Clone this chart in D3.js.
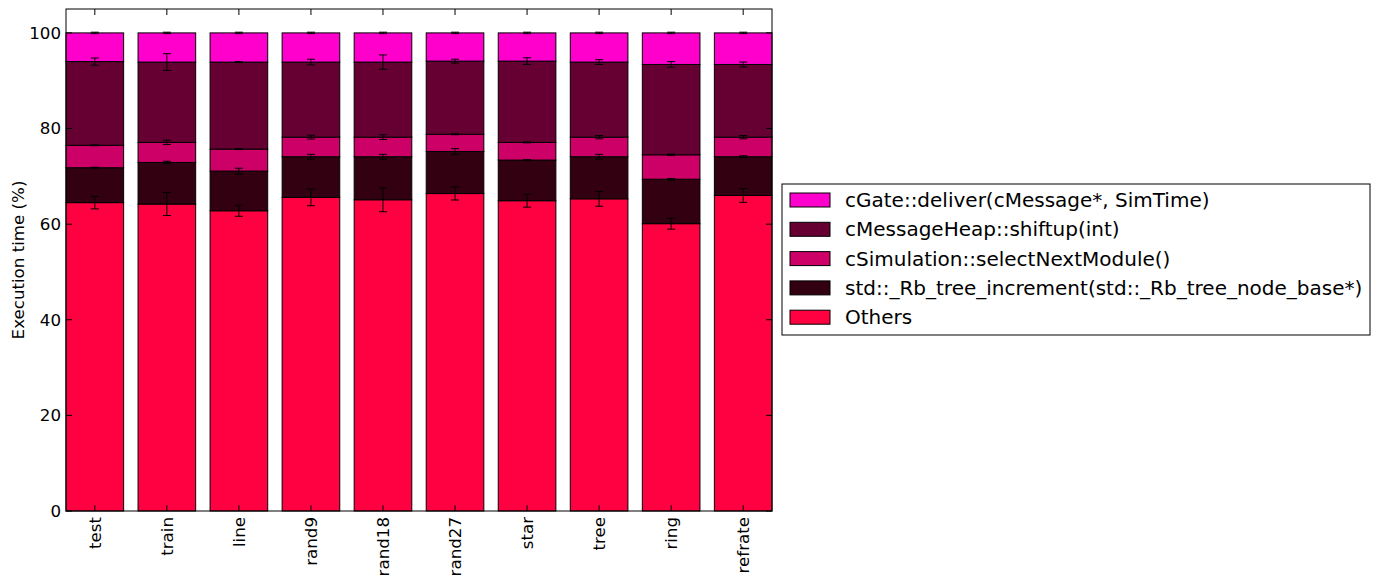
<!DOCTYPE html>
<html>
<head>
<meta charset="utf-8">
<script src="https://cdn.jsdelivr.net/npm/d3@7"></script>
<style>
body { margin: 0; background: #fff; }
svg { display: block; font-family: 'DejaVu Sans', sans-serif; }
</style>
</head>
<body>
<svg id="chart"></svg>
<script>
const benchmarks = ['test', 'train', 'line', 'rand9', 'rand18', 'rand27', 'star', 'tree', 'ring', 'refrate'];

const yTicks = [0, 20, 40, 60, 80, 100];

// segment heights, bottom to top
const others  = [64.5, 64.2, 62.8, 65.6, 65.1, 66.4, 64.9, 65.3, 60.1, 66.0];
const rbTree  = [ 7.3,  8.7,  8.3,  8.5,  9.0,  8.8,  8.5,  8.8,  9.3,  8.1];
const selNext = [ 4.7,  4.2,  4.6,  4.1,  4.1,  3.6,  3.7,  4.1,  5.1,  4.1];
const shiftup = [17.5, 16.8, 18.2, 15.7, 15.7, 15.3, 17.0, 15.7, 18.9, 15.2];
const deliver = [ 6.0,  6.1,  6.1,  6.1,  6.1,  5.9,  5.9,  6.1,  6.6,  6.6];

// error (+/-) at top of each segment
const othersErr  = [1.3, 2.4, 1.15, 1.75, 2.5, 1.35, 1.35, 1.55, 1.15, 1.45];
const rbTreeErr  = [0.1, 0.25, 0.6, 0.5, 0.5, 0.6, 0.1, 0.5, 0.15, 0.2];
const selNextErr = [0.1, 0.45, 0.1, 0.4, 0.5, 0.1, 0.1, 0.35, 0.15, 0.35];
const shiftupErr = [0.75, 1.75, 0.1, 0.6, 1.5, 0.4, 0.7, 0.5, 0.6, 0.5];
const deliverErr = [0.15, 0.15, 0.15, 0.15, 0.15, 0.15, 0.15, 0.15, 0.15, 0.15];

const series = [
    {name: 'Others', values: others, err: othersErr, color: '#ff0040'},
    {name: 'std::_Rb_tree_increment(std::_Rb_tree_node_base*)', values: rbTree, err: rbTreeErr, color: '#330011'},
    {name: 'cSimulation::selectNextModule()', values: selNext, err: selNextErr, color: '#cc0066'},
    {name: 'cMessageHeap::shiftup(int)', values: shiftup, err: shiftupErr, color: '#660033'},
    {name: 'cGate::deliver(cMessage*, SimTime)', values: deliver, err: deliverErr, color: '#ff00cc'}
];

const width = 1380, height = 583;
const margin = {left: 66, top: 9, right: 608, bottom: 72};
const barWidth = 0.8;
const fontSize = 16.67;

const svg = d3.select('#chart')
    .attr('width', width)
    .attr('height', height);

const x = d3.scaleLinear()
    .domain([0, benchmarks.length - 1 + barWidth])
    .range([margin.left, width - margin.right]);

const y = d3.scaleLinear()
    .domain([0, 105])
    .range([height - margin.bottom, margin.top]);

// stack the segments
const stacked = series.map((s, si)=>{
    return s.values.map((v, i)=>{
        const bottom = d3.sum(series.slice(0, si), p=>p.values[i]);
        return {i: i, bottom: bottom, top: bottom + v, err: s.err[i], color: s.color};
    });
});

const bars = svg.append('g');

stacked.forEach(seg=>{
    bars.selectAll(null)
        .data(seg)
        .enter()
        .append('rect')
        .attr('x', d=>x(d.i))
        .attr('y', d=>y(d.top))
        .attr('width', d=>x(d.i + barWidth) - x(d.i))
        .attr('height', d=>y(d.bottom) - y(d.top))
        .attr('fill', d=>d.color)
        .attr('stroke', '#000')
        .attr('stroke-width', 1);
});

const errs = svg.append('g')
    .attr('stroke', '#000')
    .attr('stroke-width', 1);

stacked.forEach(seg=>{
    seg.forEach(d=>{
        const cx = x(d.i + barWidth / 2);
        errs.append('line')
            .attr('x1', cx).attr('x2', cx)
            .attr('y1', y(d.top - d.err)).attr('y2', y(d.top + d.err));
        [d.top - d.err, d.top + d.err].forEach(v=>{
            errs.append('line')
                .attr('x1', cx - 4).attr('x2', cx + 4)
                .attr('y1', y(v)).attr('y2', y(v));
        });
    });
});

// frame
const x0 = x.range()[0], x1 = x.range()[1];
const y0 = y.range()[0], y1 = y.range()[1];

svg.append('rect')
    .attr('x', x0).attr('y', y1)
    .attr('width', x1 - x0).attr('height', y0 - y1)
    .attr('fill', 'none')
    .attr('stroke', '#000')
    .attr('stroke-width', 1);

// ticks, pointing inside on all four sides
const tickLen = 6;
const ticks = svg.append('g').attr('stroke', '#000').attr('stroke-width', 1);

yTicks.forEach(t=>{
    ticks.append('line').attr('x1', x0).attr('x2', x0 + tickLen).attr('y1', y(t)).attr('y2', y(t));
    ticks.append('line').attr('x1', x1).attr('x2', x1 - tickLen).attr('y1', y(t)).attr('y2', y(t));
});

benchmarks.forEach((b, i)=>{
    const cx = x(i + barWidth / 2);
    ticks.append('line').attr('x1', cx).attr('x2', cx).attr('y1', y0).attr('y2', y0 - tickLen);
    ticks.append('line').attr('x1', cx).attr('x2', cx).attr('y1', y1).attr('y2', y1 + tickLen);
});

svg.append('g')
    .selectAll('text')
    .data(yTicks)
    .enter()
    .append('text')
    .attr('x', x0 - 5)
    .attr('y', d=>y(d))
    .attr('dy', '0.35em')
    .attr('text-anchor', 'end')
    .attr('font-size', fontSize)
    .text(d=>d);

svg.append('g')
    .selectAll('text')
    .data(benchmarks)
    .enter()
    .append('text')
    .attr('transform', (d, i)=>`translate(${x(i + barWidth / 2)},${y0 + 6}) rotate(-90)`)
    .attr('dy', '0.35em')
    .attr('text-anchor', 'end')
    .attr('font-size', fontSize)
    .text(d=>d);

svg.append('text')
    .attr('transform', `translate(18,${(y0 + y1) / 2}) rotate(-90)`)
    .attr('dy', '0.35em')
    .attr('text-anchor', 'middle')
    .attr('font-size', fontSize)
    .text('Execution time (%)');

// legend
const legend = svg.append('g').attr('transform', 'translate(782,184)');

legend.append('rect')
    .attr('width', 588).attr('height', 151)
    .attr('fill', '#fff')
    .attr('stroke', '#000')
    .attr('stroke-width', 1);

const items = legend.selectAll('g')
    .data(series.slice().reverse())
    .enter()
    .append('g')
    .attr('transform', (d, i)=>`translate(0,${16 + i * 29.3})`);

items.append('rect')
    .attr('x', 8).attr('y', -7)
    .attr('width', 40).attr('height', 14)
    .attr('fill', d=>d.color)
    .attr('stroke', '#000')
    .attr('stroke-width', 1);

items.append('text')
    .attr('x', 63)
    .attr('dy', '0.35em')
    .attr('font-size', 20)
    .text(d=>d.name);
</script>
</body>
</html>
